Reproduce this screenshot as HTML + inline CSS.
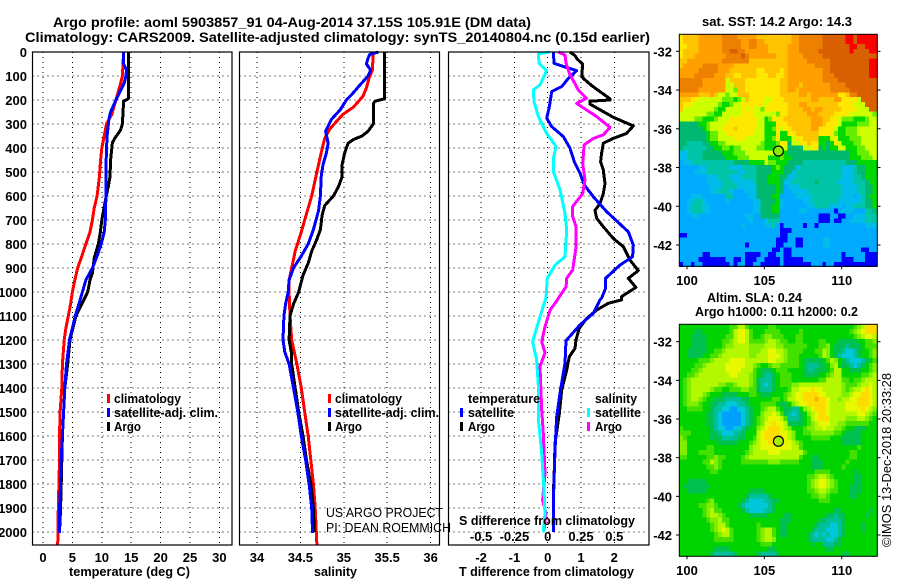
<!DOCTYPE html>
<html>
<head>
<meta charset="utf-8">
<title>Argo profile</title>
<style>
html,body{margin:0;padding:0;background:#fff;}
svg{display:block;}
text{font-family:"Liberation Sans",sans-serif;font-size:13px;font-weight:bold;fill:#000;}
.thin{font-weight:normal;font-size:12.5px;}
</style>
</head>
<body>
<svg id="chart" xmlns="http://www.w3.org/2000/svg" width="900" height="580" viewBox="0 0 900 580">
<rect width="900" height="580" fill="#fff"/>
<text x="53" y="27" style="font-size:14px" textLength="478" lengthAdjust="spacingAndGlyphs">Argo profile: aoml 5903857_91 04-Aug-2014 37.15S 105.91E (DM data)</text>
<text x="25" y="42" style="font-size:14px" textLength="625" lengthAdjust="spacingAndGlyphs">Climatology: CARS2009. Satellite-adjusted climatology: synTS_20140804.nc (0.15d earlier)</text>
<g id="layer-grid"></g>
<g id="layer-lines"></g>
<g id="layer-frames"></g>
<g id="layer-labels"></g>
<g id="layer-maps"></g>

<text x="69" y="576" textLength="121" lengthAdjust="spacingAndGlyphs">temperature (deg C)</text>
<text x="314" y="576" textLength="43" lengthAdjust="spacingAndGlyphs">salinity</text>
<text x="459" y="576" textLength="175" lengthAdjust="spacingAndGlyphs">T difference from climatology</text>
<text x="459" y="525" textLength="176" lengthAdjust="spacingAndGlyphs">S difference from climatology</text>

<g>
<rect x="107" y="394" width="3" height="9" fill="#f00"/>
<text x="114" y="403" textLength="67" lengthAdjust="spacingAndGlyphs">climatology</text>
<rect x="107" y="408" width="3" height="9" fill="#00f"/>
<text x="114" y="417" textLength="104" lengthAdjust="spacingAndGlyphs">satellite-adj. clim.</text>
<rect x="107" y="422" width="3" height="9" fill="#000"/>
<text x="114" y="431" textLength="27" lengthAdjust="spacingAndGlyphs">Argo</text>
</g>
<g>
<rect x="328" y="394" width="3" height="9" fill="#f00"/>
<text x="335" y="403" textLength="67" lengthAdjust="spacingAndGlyphs">climatology</text>
<rect x="328" y="408" width="3" height="9" fill="#00f"/>
<text x="335" y="417" textLength="104" lengthAdjust="spacingAndGlyphs">satellite-adj. clim.</text>
<rect x="328" y="422" width="3" height="9" fill="#000"/>
<text x="335" y="431" textLength="27" lengthAdjust="spacingAndGlyphs">Argo</text>
</g>
<g>
<text x="468" y="403" textLength="72" lengthAdjust="spacingAndGlyphs">temperature</text>
<rect x="460" y="408" width="3" height="9" fill="#00f"/>
<text x="468" y="417" textLength="46" lengthAdjust="spacingAndGlyphs">satellite</text>
<rect x="460" y="422" width="3" height="9" fill="#000"/>
<text x="468" y="431" textLength="27" lengthAdjust="spacingAndGlyphs">Argo</text>
<text x="595" y="403" textLength="42" lengthAdjust="spacingAndGlyphs">salinity</text>
<rect x="587" y="408" width="3" height="9" fill="#0ff"/>
<text x="595" y="417" textLength="46" lengthAdjust="spacingAndGlyphs">satellite</text>
<rect x="587" y="422" width="3" height="9" fill="#f0f"/>
<text x="595" y="431" textLength="27" lengthAdjust="spacingAndGlyphs">Argo</text>
</g>

<text class="thin" x="326" y="517" textLength="117" lengthAdjust="spacingAndGlyphs">US ARGO PROJECT</text>
<text class="thin" x="326" y="532" textLength="125" lengthAdjust="spacingAndGlyphs">PI: DEAN ROEMMICH</text>

<text x="702" y="26" textLength="150" lengthAdjust="spacingAndGlyphs">sat. SST: 14.2 Argo: 14.3</text>
<text x="707" y="302" textLength="95" lengthAdjust="spacingAndGlyphs">Altim. SLA: 0.24</text>
<text x="695" y="316" textLength="163" lengthAdjust="spacingAndGlyphs">Argo h1000: 0.11 h2000: 0.2</text>
<text class="thin" transform="translate(891,547) rotate(-90)" x="0" y="0" textLength="174" lengthAdjust="spacingAndGlyphs">©IMOS 13-Dec-2018 20:33:28</text>
</svg>

<script>
/* ---------- profile data (depth in dbar, value in native units) ---------- */
const depthTicks = [0,100,200,300,400,500,600,700,800,900,1000,1100,1200,1300,1400,1500,1600,1700,1800,1900,2000];
const tempTicks = [0,5,10,15,20,25,30];
const salTicks = [34,34.5,35,35.5,36];
const salTickLabels = ['34','34.5','35','35.5','36'];
const diffTTicks = [-2,-1,0,1,2];
const diffTTickLabels = ['-2','-1','0','1','2'];
const diffSTicks = [-0.5,-0.25,0,0.25,0.5];
const diffSTickLabels = ['-0.5','-0.25','0','0.25','0.5'];

const tempArgoDepth = [0,195,205,300,325,360,378,450,520,560,620,700,760,800,860,920,950,1000,1050,1100,1200,1300,1400,1500,1600,1700,1800,1900,2000];
const tempArgo = [14.5,14.5,13.7,13.5,13.2,12.2,11.8,11.5,11.4,11.1,10.6,10.0,9.7,9.4,8.7,8.4,8.0,7.6,6.6,5.6,4.6,4.2,3.7,3.5,3.3,3.2,3.1,3.0,2.8];
const tempClimDepth = [0,100,140,200,260,300,350,400,450,520,600,650,700,750,800,850,900,950,1000,1050,1100,1150,1200,1300,1400,1500,1600,1700,1800,1900,2055];
const tempClim = [13.7,13.5,13.1,12.4,11.7,10.8,10.4,10.0,9.8,9.6,9.2,8.7,8.4,8.0,7.3,6.6,5.9,5.4,5.0,4.7,4.3,3.9,3.6,3.3,3.2,2.9,2.8,2.8,2.7,2.6,2.5];
const tempSatDepth = [0,50,75,100,130,200,250,280,350,400,500,600,700,750,800,850,900,950,1000,1050,1100,1150,1200,1300,1400,1500,1600,1700,1800,1900,2005];
const tempSat = [13.7,13.7,14.2,14.1,13.8,12.4,11.5,11.2,10.9,10.8,10.7,10.7,10.6,10.4,9.9,9.2,8.4,7.3,6.7,6.1,5.5,5.0,4.5,4.0,3.7,3.5,3.3,3.1,3.0,2.8,2.8];

const salArgoDepth = [0,195,205,215,300,330,350,365,380,420,470,520,560,600,640,680,740,780,830,880,930,1000,1050,1100,1200,1260,1300,1400,1500,1600,1700,1800,1900,2000];
const salArgo = [35.47,35.47,35.36,35.34,35.34,35.28,35.21,35.11,35.05,35.01,34.98,34.98,34.94,34.88,34.78,34.75,34.73,34.69,34.63,34.59,34.53,34.48,34.42,34.38,34.37,34.40,34.40,34.44,34.48,34.53,34.57,34.62,34.65,34.66];
const salClimDepth = [0,75,110,150,185,230,260,320,360,420,500,600,700,750,830,900,950,1000,1100,1200,1300,1400,1500,1600,1700,1800,1900,2055];
const salClim = [35.34,35.33,35.29,35.26,35.22,35.11,34.99,34.84,34.78,34.74,34.69,34.63,34.55,34.51,34.44,34.40,34.37,34.37,34.38,34.40,34.46,34.51,34.55,34.59,34.62,34.65,34.67,34.69];
const salSatDepth = [0,10,25,50,75,100,140,170,200,240,280,330,380,420,470,520,600,660,740,800,850,900,950,1000,1050,1100,1200,1250,1300,1400,1500,1600,1700,1800,1900,2005];
const salSat = [35.40,35.30,35.28,35.26,35.31,35.28,35.18,35.11,35.03,34.96,34.86,34.79,34.82,34.80,34.76,34.74,34.73,34.71,34.65,34.59,34.51,34.42,34.37,34.36,34.33,34.31,34.30,34.32,34.37,34.42,34.47,34.51,34.56,34.60,34.63,34.64];

const diffTArgoDepth = [0,15,30,50,100,110,140,175,195,200,205,217,272,308,339,360,380,422,457,492,548,590,632,660,693,728,777,811,867,911,943,981,1019,1033,1047,1075,1110,1151,1200,1235,1270,1325,1408,1505,1631,1728,1839,2000];
const diffTArgo = [0.67,0.82,0.89,1.05,1.02,1.07,1.32,1.67,1.87,1.87,1.27,1.27,1.97,2.57,2.37,1.97,1.67,1.62,1.59,1.67,1.72,1.67,1.57,1.42,1.47,1.67,1.97,2.27,2.47,2.72,2.42,2.65,2.22,2.22,1.82,1.47,1.17,0.95,0.85,0.82,0.65,0.57,0.42,0.35,0.22,0.20,0.17,0.17];
const diffTSatDepth = [0,47,58,78,110,144,165,228,276,311,353,401,457,505,554,603,665,749,804,853,888,943,985,1026,1033,1089,1137,1203,1297,1422,1519,1658,1867,2000];
const diffTSat = [0.17,0.19,0.42,0.87,0.62,0.42,0.12,0.05,-0.03,0.12,0.47,0.67,0.80,0.97,1.10,1.37,1.77,2.42,2.57,2.55,2.17,1.74,1.74,1.62,1.57,1.37,0.97,0.55,0.52,0.37,0.27,0.22,0.17,0.17];
const diffSSatDepth = [0,8,47,78,137,158,207,269,339,394,443,499,575,672,742,853,888,943,1026,1033,1103,1207,1283,1394,1533,1672,1825,1922,2000];
const diffSSat = [0.018,-0.07,-0.065,-0.008,-0.058,-0.108,-0.103,-0.07,-0.008,0.063,0.043,0.043,0.093,0.13,0.143,0.13,0.055,-0.003,-0.013,-0.018,-0.058,-0.113,-0.083,-0.07,-0.07,-0.045,-0.028,-0.02,-0.033];
const diffSArgoDepth = [0,13,47,89,158,193,214,269,314,345,360,387,464,533,589,644,686,728,811,908,943,978,1026,1033,1075,1144,1207,1253,1311,1492,1589,1756,1867,1922,1992];
const diffSArgo = [0.08,0.13,0.138,0.163,0.23,0.29,0.218,0.367,0.468,0.418,0.343,0.273,0.263,0.28,0.263,0.188,0.188,0.213,0.213,0.188,0.143,0.138,0.08,0.073,0.018,-0.02,-0.045,-0.02,-0.058,-0.045,-0.033,-0.02,-0.038,-0.013,-0.028];

/* ---------- map data: one letter per 0.25-degree cell ---------- */
const lonTicks = [100,105,110];
const latTicks = [-32,-34,-36,-38,-40,-42];
const argoLon = 105.91;
const argoLat = -37.15;
const sstPalette = {a:'#00aaff',b:'#0000ff',c:'#00bce8',d:'#00c4a8',e:'#00b870',f:'#00d800',g:'#66ee00',h:'#a0f400',i:'#ccff00',j:'#ffe800',k:'#ffc400',l:'#ffa000',m:'#ee8000',n:'#d86000',r:'#ff0000'};
const slaPalette = {a:'#00a0ff',c:'#00c8d8',d:'#00c098',e:'#00c050',f:'#00d400',g:'#44e000',h:'#80ee00',i:'#b4f800',j:'#e8f800',k:'#ffdc00',l:'#ffb000'};
const sstRows = [
"jkkkklllll lmmmmlllll kkkkkk kkkllmmmmm mnnnnnnrrn rrrrr",
"jkkkklllll lmmmmmllmm llkkkk kkkllmmmmm mnnnnnnrrn rrrrr",
"jjkkklllll lmmmmmllmm lllkkk kklllmmmmm mnnnnnnnrr nnrrr",
"jkkkklllll lmmnnmmlll lllkkk kklllmmmmm nnnnnnnnrn nnnrr",
"jkkkllllll llmmmmnmll lllllk kkllllmmmm mnnnnnnnnn nnnnn",
"kkllllllll lmmmmmmmkk kkkkkk kklllllmmm mmmnnnnnnn nnnrr",
"klllllmmmm llllkkkkkk kkkkkk kklllllllm mmmnnnnnnn nnnrr",
"lllllmmmmm lllkkkkkkk jjkkkk jkllllllll lmmnnnnnnn nnnrr",
"llllmmmmml llkkjjkkkk jjjkkj jkllllllll lmmmnnnnnn nnnrr",
"mmmmmmllll llikkkkjjj jjjjjj kkllllllll lmmmmnnnnn nnnnn",
"mmmmmmllll lliikkkjjj jjjjjj kklllkllll lllmmmmnnn nnnnn",
"mmmmmlllll lliigkkjjj jjjjjj kkllklllll lllmmmmmnn nnnnn",
"lllllkkklk iigiikkkjj jjjjjj kkkkkllkll llllljjkmm nnnnn",
"kkkjjiiiii igggfgikjj jjiijj jkkkkkkkll kkkklljjjj innnn",
"kjjiiiiiii gffgiijjjj jjijjj jjkkkllkkk kkkkkjjjji iinnn",
"kiiiiiiiig ffiiiijiji igjjjj jjkkkkllkl lkkkkkjjjj iiinn",
"iiiiiiiggf fiiiiijjji iiiiig jjkkkkklll kkkkjjjjii iiiig",
"iiiiggfffg iiijjjjjjj iifgjj jkkkkkkkll lkkjjigggf ffgii",
"eeeeeffgii iijjjjjjjj iifffj jjkkkkkkll lkjjjiffff gggii",
"eeeeeefgii ijjjkjjjjj iiffgj ijjkkkkkll jjjjiffggg iiiii",
"eeeeeeefgg iijjjjjjji iifffj ffjjkkkkkk jjjjgffggg iiiii",
"eeeeeeefgg iiiijjjiii iiffgj fffijjkkkk fffijfffgg giiii",
"eeddddeeff ggiiiiiiii igfffg jjeiijjkjj ffefjifffg giiii",
"eddddddeef fggfggiiii ggffff iieeeeiijj efeffiifff ggiii",
"ccddddeeee efffgggiii iiiiig gfeeeeeeee eeeeeeeeff gggii",
"ccddddeeee eefffgggii iiifff gffeeeeeee eeeeeeeeff fgggi",
"accddddddd ddddeeeeff ffiggf ffeeeedddd dddddddeee fffff",
"aaaaaccddd dddcccdddd eeeefg feeecddddd ddddddcccd eefff",
"aaaacccddd dddddccddd eeeeff feecdddddd ddddddcccd eefff",
"aaaaaaaccc dddcccdddd eeefff eeccdddddd ddddddcccd defff",
"aaaaaaaccc cdddcccccd eeefff eccdddddde dddddccccd ddeff",
"aaaaaaaacc cddddccccc eeeeef eacccddddd ddddddcccc ddeef",
"aaaaaaaacc dddcaaaccc eeeeef eaaccccddd ddddddcccc ddeef",
"aaacccaaaa aaddaaaacc eeeeff aaaaccccdd ddddddccca cdeff",
"aaccddcaaa aacaaaaaac ceeeef caaaaaccdd dddddccccc cdeef",
"aacdddccaa aaaaaaaaac ceeeff caaaaaaccd dddcccaccd ddeef",
"aacdddccaa aaaaaaaaac ceeeff aaaaaccaaa aaaabaccca aadde",
"aaaccaaaaa aaaaaaacca aeeeee aaaaaaaaaa bbbaabbaac ccddd",
"aaaaaaaaaa aaaaaaaaca aacddd aaaaaaaaaa bbbabbaacc ccddd",
"aaaaaaaaaa aaaaaacaaa aaccda baaaaabaab aaaaaaaaaa aaccc",
"aaaaaaaaaa aaaaaaaaaa aaaaaa bbbaaaaaaa aaaaaaaaaa aaaaa",
"bbaaaaaaaa aaaaaaaaaa aaaaaa bbaaaaaaaa aaaaaaaaaa aaaaa",
"aaaaaaaaaa aaaaaaaaaa aaaaab bbaabbaaaa accaaaaaaa aaaaa",
"aaaaaaaaaa aaaaaaabaa aaaaab baaabbaaaa accaaaaaaa aaaaa",
"aaaaaaaaaa aaaaaaaaaa aaaabb abbaaaaaaa aaaaaaaaaa abbaa",
"aaaaaabbaa aaaaaaabbb baabba abbaaaaaaa aaaaaabaaa aabbb",
"aaaaabbbbb bbaabbabbb aabbbb abbbbbaaaa aaaaaabbba aabbb",
"baabaabbbb bbbabaabba abbbbb abbbbbbbaa abaabbbbbb bbbbb"
];
const slaRows = [
"ffffffffff fffggiigff fffggfffff ffffffffff fffffghikk k",
"ffffeeffff fffgijjigf ffggggffff fgffffffff ffffghijkk k",
"fffeeeefff ffggijjigf fghhgggfff ggffffffff fffffghijj i",
"fffeeeefff fgghijjigg gghiihggff ggffffggff feeeeeffgg h",
"fffeeeefff fghhiiiihh hhiiihhggg gggfffgghf eeedeeefgg g",
"ffeeeeeffg ghiiiiiihh hiijjiihgg ggfffggihf eedccdeffg h",
"ffeeeeffgg hiiiiiiihh iiijjjihgg gfffffgihf edcccdeffg h",
"fffffggghi iiijjjjiii iiijjiihgg gfeeeeefgi hfedcccdef g",
"ffffgghiii iijjjjjiih gffghhgggg gfedddeefh ifeedcdefg h",
"fffgghiiii iijjjjiiig feeefgggff ffeddeeefg iiffeeeffg h",
"ffgghiiiii iiijjiiihg feddefgggf ffeeeeffgh iifffffggh i",
"fghiiiiiii iiiiiiiihg edddefgggf ffffffggii iiggfgghii i",
"fghiiiiiii hhgghiiihg edcdefgggh hiiiiiiiii iihggghiij i",
"fghiiiiihg gffggghhgg edddefffgi ijjjkjjiii iihghiijkj i",
"fghiiihgff feeeefffgg feeefffghi jjkkkkjjii iihhijjkkj i",
"fghiihgffe eeddddeeff ffffggfgii jjkkklkkji ihiijjkkkj i",
"fghhhgffee ddcccddeff fggggfeefh ijjkkkkkji iiijjjkkkj i",
"ffggggffed dccaaccdef fghiigfeed dfhijkkkji iiijjjjkji h",
"fffffffeed caaaaacdef fhiijigedc defhijkkji iiiiiijjih g",
"fffffffeed caaaaacdef ghijjjigdd defgijkkki iiihhhiihg f",
"fffffffeed caaaaacdef ghjjkjjiee eefghijjji ihhggggggf f",
"gfffffffed ccaaccdeff hijkkkjihf ffghhiijii hhgffeeeff f",
"gggfffffee dcccddefff ijkkkkjjih ffgghhhhhh ggfeeeefff f",
"hgffffffee eddddeeffg ijkkkkkjih ffffgggggf ffeeeeefff f",
"hhffffffff eeeeefffgh ijjkkkkjji hgffffffff ffeeeeefff f",
"hhfffffggf ffffffffhi ijjjjjjjji igffffffff ffffffgfff f",
"hhfffggggf fffffffghi iiijjjiiii iigfffffff ffffggffff f",
"ggfffffggh ggffffghii iiiiiiiiii igffeeffff ffffggffff f",
"ffffffggih gfffffgggg ggghhhgggg gfffeeefff fffgffffff f",
"fffffffggh gfffffffff ffffffffff ffffeeefff ffgfffffff f",
"ffffffffgg ffffffffff ffffffffff fffffggggf fffffeffff f",
"ffffffffff ffffffffff ffffffffff fffgghiihg fffffeefff f",
"ffeeeeefff ffffffffff ffffffffff fffghijjih gffffeefff f",
"feeeeeeeff ffffffffff ffffffffff fffghijjih gfffeeefff f",
"ffeeeeefff ffffffffee eeffffffff fffgghiihg gfffeeefff f",
"ffffffffff fffffffedd dddeffffff ffffgghhgf ffffeeffff f",
"fffffffghf ffffffedcc ccddeeffff ffffffgggf ffffffffff f",
"fffffgghhg fffffedccc cccdefffff ffffffffff ffffffffff f",
"ffffffghig gfffffedcc ccddefffff ffffffffff eefffffffe f",
"ffffffghii hgffffffee eeeffffeef ffffffffee deefffffef f",
"fffffffghh iggfffffff ffffffeeef ffffffeedd ddefffffff f",
"ffffffffgh iigfffffff gfffffeeff fffffedddc cdeffffeff f",
"ffffffffgh ijigffffff ghiigfeeff ffffedddcc cdeffffeff f",
"fffffffffg hiigffffff ghiigfeeff fffedcdcdc cdefffffff f",
"fffffffffg ggggffffff ghiihfffff fffeddddcc deffffffff f",
"ffffffffff ffffffffff fgggffffff ffffeffddd eeffffffff f",
"fffffffffe eeefffffff fffeefffff ffffffffee ffffffffff f",
"ffffffffed ddddefffff eddddeffff ffffffffff ffeeffffff f"
];

/* ---------- axis functions ---------- */
const PANEL_TOP = 52, PANEL_BOTTOM = 545;
const yDepth = d => 52 + d * 0.24;
const xTemp = v => 43 + v * 5.88;
const xSal = v => 257 + (v - 34) * 86.8;
const xDiffT = v => 547.7 + v * 33.3;
const xDiffS = v => 547.7 + v * 133.2;
const lonX = v => 687 + (v - 100) * 15.47;
const latYSst = v => 51.3 + (-32 - v) * 19.37;
const latYSla = v => 341.7 + (-32 - v) * 19.33;

const NS = 'http://www.w3.org/2000/svg';
function mk(tag, parent, attrs) {
  const el = document.createElementNS(NS, tag);
  for (const k in attrs) el.setAttribute(k, attrs[k]);
  parent.appendChild(el);
  return el;
}
const gridLayer = document.getElementById('layer-grid');
const lineLayer = document.getElementById('layer-lines');
const frameLayer = document.getElementById('layer-frames');
const labelLayer = document.getElementById('layer-labels');
const mapLayer = document.getElementById('layer-maps');

function gridLine(x1, y1, x2, y2) {
  const el = mk('line', gridLayer, {x1, y1, x2, y2, stroke:'#000', 'stroke-width':1, 'stroke-dasharray':'1 4', 'shape-rendering':'crispEdges'});
  
  
}
function label(str, x, y, anchor) {
  const el = mk('text', labelLayer, {x, y, 'text-anchor':anchor});
  el.textContent = str;
  
  
}
function panelFrame(left, right, xFn, ticks) {
  depthTicks.forEach(d => gridLine(left, yDepth(d), right, yDepth(d)));
  ticks.forEach(t => gridLine(xFn(t), PANEL_TOP, xFn(t), PANEL_BOTTOM));
  const el = mk('rect', frameLayer, {x:left, y:PANEL_TOP, width:right-left, height:PANEL_BOTTOM-PANEL_TOP, fill:'none', stroke:'#000', 'stroke-width':1.2});
  
  
}
function profile(depths, values, xFn, color, name) {
  const pts = depths.map((d, i) => xFn(values[i]).toFixed(1) + ',' + yDepth(d).toFixed(1)).join(' ');
  const el = mk('polyline', lineLayer, {points:pts, fill:'none', stroke:color, 'stroke-width':3, 'stroke-linejoin':'round', 'shape-rendering':'crispEdges'});
  
  
}

panelFrame(32.5, 232, xTemp, tempTicks);
panelFrame(239.5, 439.5, xSal, salTicks);
panelFrame(448.5, 649, xDiffT, diffTTicks);

profile(tempClimDepth, tempClim, xTemp, '#ff0000', 'temperature-climatology-line');
profile(tempArgoDepth, tempArgo, xTemp, '#000000', 'temperature-argo-line');
profile(tempSatDepth, tempSat, xTemp, '#0000ff', 'temperature-satellite-line');
profile(salClimDepth, salClim, xSal, '#ff0000', 'salinity-climatology-line');
profile(salArgoDepth, salArgo, xSal, '#000000', 'salinity-argo-line');
profile(salSatDepth, salSat, xSal, '#0000ff', 'salinity-satellite-line');
profile(diffTArgoDepth, diffTArgo, xDiffT, '#000000', 't-difference-argo-line');
profile(diffTSatDepth, diffTSat, xDiffT, '#0000ff', 't-difference-satellite-line');
profile(diffSArgoDepth, diffSArgo, xDiffS, '#ff00ff', 's-difference-argo-line');
profile(diffSSatDepth, diffSSat, xDiffS, '#00ffff', 's-difference-satellite-line');

depthTicks.forEach(d => label(String(d), 27, yDepth(d) + 5, 'end'));
tempTicks.forEach(t => label(String(t), xTemp(t), 562, 'middle'));
salTicks.forEach((t, i) => label(salTickLabels[i], xSal(t), 562, 'middle'));
diffTTicks.forEach((t, i) => label(diffTTickLabels[i], xDiffT(t), 562, 'middle'));
diffSTicks.forEach((t, i) => label(diffSTickLabels[i], xDiffS(t), 541, 'middle'));

/* ---------- maps ---------- */
function heatmap(rows, palette, latY, topLat, top, bottom, circleFill, mapName) {
  const g = mk('g', mapLayer, {});
  
  
  rows.forEach((row, r) => {
    const chars = row.replace(/ /g, '');
    for (let c = 0; c < 51; c++) {
      const ch = chars[c] || chars[chars.length - 1];
      const x0 = lonX(99.5 + c * 0.25), x1 = lonX(99.5 + (c + 1) * 0.25);
      const y0 = latY(topLat - r * 0.25), y1 = latY(topLat - (r + 1) * 0.25);
      const cell = mk('rect', g, {x:x0.toFixed(2), y:y0.toFixed(2), width:(x1-x0+0.4).toFixed(2), height:(y1-y0+0.4).toFixed(2), fill:palette[ch], 'shape-rendering':'crispEdges'});
      
      
    }
  });
  const frame = mk('rect', g, {x:679.3, y:top, width:198, height:bottom-top, fill:'none', stroke:'#000', 'stroke-width':1});
  
  
  latTicks.forEach(t => {
    const y = latY(t);
    const l = mk('line', g, {x1:676, y1:y, x2:679.3, y2:y, stroke:'#000', 'stroke-width':1});
    
    
    const r = mk('line', g, {x1:877.3, y1:y, x2:880.5, y2:y, stroke:'#000', 'stroke-width':1});
    
    
    const tx = mk('text', g, {x:672, y:y + 5, 'text-anchor':'end'});
    tx.textContent = String(t);
    
    
  });
  lonTicks.forEach(t => {
    const x = lonX(t);
    const l = mk('line', g, {x1:x, y1:bottom, x2:x, y2:bottom + 3, stroke:'#000', 'stroke-width':1});
    
    
    const tx = mk('text', g, {x, y:bottom + 18.5, 'text-anchor':'middle'});
    tx.textContent = String(t);
    
    
  });
  const dot = mk('circle', g, {cx:lonX(argoLon), cy:latY(argoLat), r:5, fill:circleFill, stroke:'#000', 'stroke-width':1.2});
  
  
}
heatmap(sstRows, sstPalette, latYSst, -31.12, 34.3, 266.3, '#88ee00', 'sst-map');
heatmap(slaRows, slaPalette, latYSla, -31.1, 324.3, 556.3, '#aaee00', 'sla-map');
</script>
</body>
</html>
